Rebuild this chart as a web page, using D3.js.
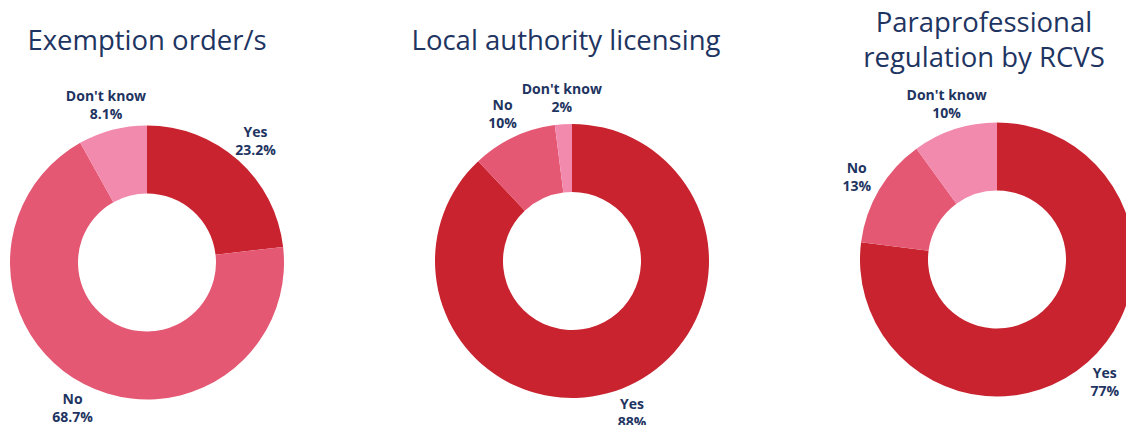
<!DOCTYPE html>
<html>
<head>
<meta charset="utf-8">
<script src="https://cdn.jsdelivr.net/npm/d3@7"></script>
<style>
  html, body { margin: 0; padding: 0; background: #ffffff; overflow: hidden; }
  svg { display: block; }
</style>
</head>
<body>
<svg id="chart" width="1126" height="425"></svg>
<script>
// Survey answers per regulatory option (percent of respondents)
const categories = ["Yes", "No", "Don't know"];
const exemptionValues = [23.2, 68.7, 8.1];
const licensingValues = [88, 10, 2];
const rcvsValues = [77, 13, 10];
const valueLabels = [
  ["23.2%", "68.7%", "8.1%"],
  ["88%", "10%", "2%"],
  ["77%", "13%", "10%"]
];
const titles = [
  ["Exemption order/s"],
  ["Local authority licensing"],
  ["Paraprofessional", "regulation by RCVS"]
];
const seriesValues = [exemptionValues, licensingValues, rcvsValues];

const colors = d3.scaleOrdinal()
  .domain(categories)
  .range(["#c8232f", "#e45873", "#f28aae"]);

const navy = "#1e3461";
const svg = d3.select("#chart");

// Layout of each donut panel
const panels = [
  { cx: 147, cy: 262.5, titleX: 147, titleY: [50] },
  { cx: 572, cy: 261,   titleX: 566, titleY: [50] },
  { cx: 997, cy: 259.5, titleX: 984, titleY: [32, 67] }
];
const outerR = 137;
const innerR = 69;
const labelR = 163;

const pie = d3.pie().sort(null).value(d => d.value);
const arc = d3.arc().innerRadius(innerR).outerRadius(outerR);
const labelArc = d3.arc().innerRadius(labelR).outerRadius(labelR);

panels.forEach((p, i) => {
  const data = categories.map((c, j) => ({ cat: c, value: seriesValues[i][j], label: valueLabels[i][j] }));
  const g = svg.append("g").attr("transform", `translate(${p.cx},${p.cy})`);

  const arcs = pie(data);
  g.selectAll("path.slice")
    .data(arcs)
    .join("path")
    .attr("class", "slice")
    .attr("d", arc)
    .attr("fill", d => colors(d.data.cat));

  const labels = g.selectAll("text.lbl")
    .data(arcs)
    .join("text")
    .attr("class", "lbl")
    .attr("transform", d => `translate(${labelArc.centroid(d)})`)
    .attr("text-anchor", "middle")
    .attr("font-family", "'Open Sans', sans-serif")
    .attr("font-weight", 700)
    .attr("font-size", 14)
    .attr("fill", navy);
  labels.append("tspan").attr("x", 0).attr("y", -4).text(d => d.data.cat);
  labels.append("tspan").attr("x", 0).attr("y", 14).text(d => d.data.label);

  const t = svg.append("text")
    .attr("text-anchor", "middle")
    .attr("font-family", "'Open Sans', sans-serif")
    .attr("font-weight", 500)
    .attr("font-size", 27.5)
    .attr("fill", navy);
  titles[i].forEach((line, k) => {
    t.append("tspan").attr("x", p.titleX).attr("y", p.titleY[k]).text(line);
  });
});
</script>
</body>
</html>
